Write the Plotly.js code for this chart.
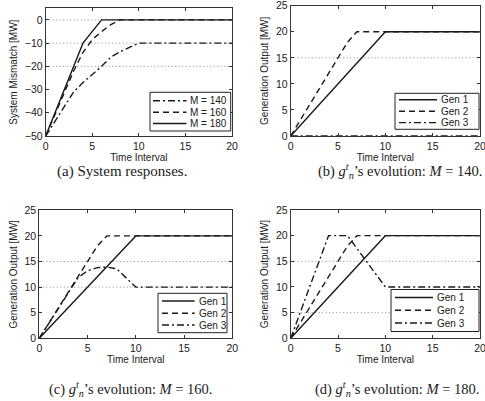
<!DOCTYPE html>
<html>
<head>
<meta charset="utf-8">
<script src="https://cdn.plot.ly/plotly-3.0.1.min.js"></script>
<style>
html,body{margin:0;padding:0;background:#fff;}
#chart{width:485px;height:401px;}
</style>
</head>
<body>
<div id="chart"></div>
<script>
// ---------- data ----------
// (a) system mismatch
const tM140 = [0, 1, 2, 3, 4, 5, 6, 7, 8, 9, 10, 20];
const mismatch140 = [-50, -43.5, -37.5, -31, -27, -23.5, -20, -16, -13.7, -11.8, -10, -10];
const tM160 = [0, 1, 2, 3, 4, 5, 6, 7, 7.5, 8, 20];
const mismatch160 = [-50, -40.5, -31, -22, -14, -8.5, -5, -2, -1, 0, 0];
const tM180 = [0, 4, 6, 20];
const mismatch180 = [-50, -10, 0, 0];
const legendA = ["M = 140", "M = 160", "M = 180"];

// generators
const tGen1 = [0, 10, 20];
const gen1 = [0, 20, 20];
const tGen2 = [0, 1, 2, 3, 4, 5, 6, 7, 20];
const gen2 = [0, 3, 6, 9, 12, 15, 18, 20, 20];
const tGen3_140 = [0, 20];
const gen3_140 = [0, 0];
const tGen3_160 = [0, 1, 2, 3, 4, 5, 6, 7, 8, 9, 10, 20];
const gen3_160 = [0, 3, 6, 9, 11.8, 13.2, 13.8, 13.9, 13.6, 11.8, 10, 10];
const tGen3_180 = [0, 1, 2, 3, 4, 5, 6, 7, 8, 9, 10, 20];
const gen3_180 = [0, 5, 10, 15, 20, 20, 20, 17.5, 15, 12.5, 10, 10];
const genNames = ["Gen 1", "Gen 2", "Gen 3"];

// visible dotted grid levels
const gridA = [0, -10, -20];
const gridB = [15];
const gridC = [15, 10];
const gridD = [15, 5];

const captions = [
  "(a) System responses.",
  "(b) <i>g</i><sup><i>t</i></sup><sub><i>n</i></sub>’s evolution: <i>M</i> = 140.",
  "(c) <i>g</i><sup><i>t</i></sup><sub><i>n</i></sub>’s evolution: <i>M</i> = 160.",
  "(d) <i>g</i><sup><i>t</i></sup><sub><i>n</i></sub>’s evolution: <i>M</i> = 180."
];

// ---------- styling ----------
const SANS = "Liberation Sans, Arial, sans-serif";
const SERIF = "Liberation Serif, Times New Roman, serif";
const INK = "#1a1a1a";
const DASH = "6px,4px";
const DASHDOT = "7px,3px,2px,3px";

function line(dash) { return {color: INK, width: 1.4, dash: dash}; }

function tr(x, y, name, ax, dash) {
  return {x: x, y: y, name: name, xaxis: "x" + ax, yaxis: "y" + ax, mode: "lines",
          line: line(dash), showlegend: false, hoverinfo: "skip"};
}

const traces = [
  tr(tM140, mismatch140, legendA[0], "", DASHDOT),
  tr(tM160, mismatch160, legendA[1], "", DASH),
  tr(tM180, mismatch180, legendA[2], "", "solid"),

  tr(tGen1, gen1, genNames[0], "2", "solid"),
  tr(tGen2, gen2, genNames[1], "2", DASH),
  tr(tGen3_140, gen3_140, genNames[2], "2", DASHDOT),

  tr(tGen1, gen1, genNames[0], "3", "solid"),
  tr(tGen2, gen2, genNames[1], "3", DASH),
  tr(tGen3_160, gen3_160, genNames[2], "3", DASHDOT),

  tr(tGen1, gen1, genNames[0], "4", "solid"),
  tr(tGen2, gen2, genNames[1], "4", DASH),
  tr(tGen3_180, gen3_180, genNames[2], "4", DASHDOT)
];

const W = 485, H = 401;
function px(x) { return x / W; }
function py(y) { return 1 - y / H; }

function xaxis(domain, anchor) {
  return {
    domain: domain, anchor: anchor, range: [0, 20], dtick: 5, tick0: 0,
    showgrid: false, zeroline: false, showline: true, mirror: "ticks",
    linecolor: "#333", linewidth: 1, ticks: "inside", ticklen: 3, tickcolor: "#333",
    tickfont: {family: SANS, size: 10.5, color: INK}, ticklabeloverflow: "allow",
    title: {text: "Time Interval", font: {family: SANS, size: 10, color: INK}, standoff: 0},
    automargin: false, fixedrange: true
  };
}
function yaxis(domain, anchor, range, dtick, title) {
  return {
    domain: domain, anchor: anchor, range: range, dtick: dtick, tick0: 0,
    showgrid: false, zeroline: false, showline: true, mirror: "ticks",
    linecolor: "#333", linewidth: 1, ticks: "inside", ticklen: 3, tickcolor: "#333",
    tickfont: {family: SANS, size: 10.5, color: INK}, ticklabeloverflow: "allow",
    title: {text: title, font: {family: SANS, size: 10, color: INK}, standoff: 5},
    automargin: false, fixedrange: true
  };
}

const domA = {x: [px(45.7), px(232)], y: [py(136), py(8.3)]};
const domB = {x: [px(290.7), px(480)], y: [py(136), py(5.7)]};
const domC = {x: [px(39.3), px(232.3)], y: [py(338.3), py(210.3)]};
const domD = {x: [px(290.7), px(480)], y: [py(338.3), py(210)]};

function gridShapes(levels, xref, yref) {
  return levels.map(v => ({
    type: "line", xref: xref + " domain", yref: yref, x0: 0, x1: 1, y0: v, y1: v,
    layer: "below", line: {color: "#8a8a8a", width: 1, dash: "1px,2.5px"}
  }));
}

// hand-built compact legends (box, line samples, labels), MATLAB style
const legendStyles = [DASHDOT, DASH, "solid"];
const genStyles = ["solid", DASH, DASHDOT];
const legendBoxes = [
  {box: [150, 230.7, 92.3, 131], rows: [100.7, 112.3, 123.5], ln: [153, 186.5], tx: 188, names: legendA, styles: legendStyles},
  {box: [395, 479, 93.3, 129.3], rows: [99.8, 111.2, 122.6], ln: [399, 437], tx: 439, names: genNames, styles: genStyles},
  {box: [158, 227, 293.3, 332.7], rows: [301, 313.2, 325], ln: [162, 194.7], tx: 196.5, names: genNames, styles: genStyles},
  {box: [391, 479, 289.5, 331.5], rows: [297.5, 310.3, 323], ln: [395, 433], tx: 435, names: genNames, styles: genStyles}
];

const legendShapes = [];
const legendTexts = [];
legendBoxes.forEach(L => {
  legendShapes.push({type: "rect", xref: "paper", yref: "paper",
    x0: px(L.box[0]), x1: px(L.box[1]), y0: py(L.box[3]), y1: py(L.box[2]),
    fillcolor: "#fff", line: {color: "#222", width: 1}, layer: "above"});
  L.rows.forEach((r, i) => {
    legendShapes.push({type: "line", xref: "paper", yref: "paper",
      x0: px(L.ln[0]), x1: px(L.ln[1]), y0: py(r), y1: py(r),
      line: {color: INK, width: 1.4, dash: L.styles[i]}, layer: "above"});
    legendTexts.push({text: L.names[i], xref: "paper", yref: "paper",
      x: px(L.tx), y: py(r), xanchor: "left", yanchor: "middle", showarrow: false,
      font: {family: SANS, size: 10, color: INK}});
  });
});

function caption(text, x, y, size) {
  return {text: text, xref: "paper", yref: "paper", x: px(x), y: py(y),
    xanchor: "center", yanchor: "middle", showarrow: false,
    font: {family: SERIF, size: size, color: INK}};
}

const layout = {
  width: W, height: H,
  margin: {l: 0, r: 0, t: 0, b: 0, pad: 0},
  paper_bgcolor: "#fff", plot_bgcolor: "#fff",
  showlegend: false,
  xaxis: xaxis(domA.x, "y"),
  yaxis: yaxis(domA.y, "x", [-50, 5], 10, "System Mismatch [MW]"),
  xaxis2: xaxis(domB.x, "y2"),
  yaxis2: yaxis(domB.y, "x2", [0, 25], 5, "Generation Output [MW]"),
  xaxis3: xaxis(domC.x, "y3"),
  yaxis3: yaxis(domC.y, "x3", [0, 25], 5, "Generation Output [MW]"),
  xaxis4: xaxis(domD.x, "y4"),
  yaxis4: yaxis(domD.y, "x4", [0, 25], 5, "Generation Output [MW]"),
  shapes: [].concat(
    gridShapes(gridA, "x", "y"),
    gridShapes(gridB, "x2", "y2"),
    gridShapes(gridC, "x3", "y3"),
    gridShapes(gridD, "x4", "y4"),
    legendShapes
  ),
  annotations: [
    caption(captions[0], 122, 172, 15),
    caption(captions[1], 400, 171, 14.5),
    caption(captions[2], 131, 389, 14.5),
    caption(captions[3], 397, 389, 14.5)
  ].concat(legendTexts)
};

Plotly.newPlot("chart", traces, layout, {displayModeBar: false, staticPlot: true});
</script>
</body>
</html>
